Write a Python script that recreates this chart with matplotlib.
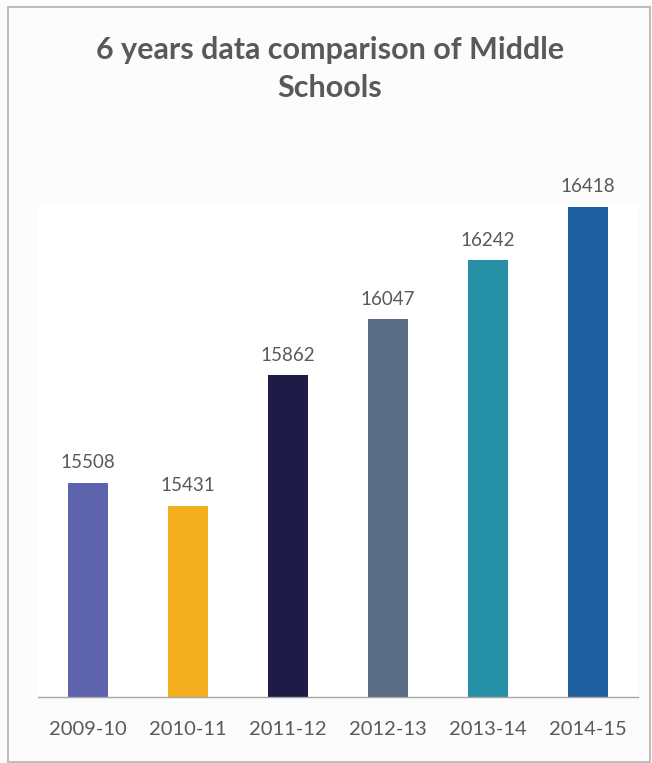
import matplotlib
matplotlib.use("Agg")
import matplotlib.pyplot as plt
from matplotlib.patches import Rectangle

categories = ["2009-10", "2010-11", "2011-12", "2012-13", "2013-14", "2014-15"]
values = [15508, 15431, 15862, 16047, 16242, 16418]
colors = ["#5D64AD", "#F4AF1E", "#1E1B47", "#5A6B85", "#2690A6", "#1E5FA0"]
title = "6 years data comparison of Middle\nSchools"

W, H = 652, 763
fig = plt.figure(figsize=(W / 100, H / 100), dpi=100)
fig.patch.set_facecolor("#FCFCFC")

# outer border
fig.patches.append(Rectangle((7.5 / W, 1 - 761.5 / H), (650 - 7.5) / W, (761.5 - 6.5) / H,
                             transform=fig.transFigure, fill=False,
                             edgecolor="#BDBDBD", linewidth=1.5))

ax_l, ax_r, ax_t, ax_b = 38, 638, 205, 697
ax = fig.add_axes([ax_l / W, 1 - ax_b / H, (ax_r - ax_l) / W, (ax_b - ax_t) / H])
ax.set_facecolor("white")

font = ["Lato", "DejaVu Sans"]
x = range(len(categories))
ax.bar(x, values, width=0.4, color=colors, bottom=0)
ax.set_xlim(-0.5, len(categories) - 0.5)
ax.set_ylim(14800, 16425)

for i, v in zip(x, values):
    ax.annotate(str(v), (i, v), xytext=(0, 8.5), textcoords="offset points",
                ha="center", va="bottom", fontsize=13.5, color="#595959", family=font)

ax.set_xticks(list(x))
ax.set_xticklabels(categories, fontsize=14.5, color="#595959", family=font)
ax.tick_params(axis="x", length=0, pad=17)
ax.set_yticks([])
for s in ["left", "right", "top"]:
    ax.spines[s].set_visible(False)
ax.spines["bottom"].set_color("#A6A6A6")
ax.spines["bottom"].set_linewidth(1.0)

fig.text(330 / W, 1 - 69 / H, title, ha="center", va="center", fontsize=22,
         fontweight="bold", color="#595959", family=font, linespacing=1.4)

fig.savefig("out.png", dpi=100, facecolor=fig.get_facecolor())
